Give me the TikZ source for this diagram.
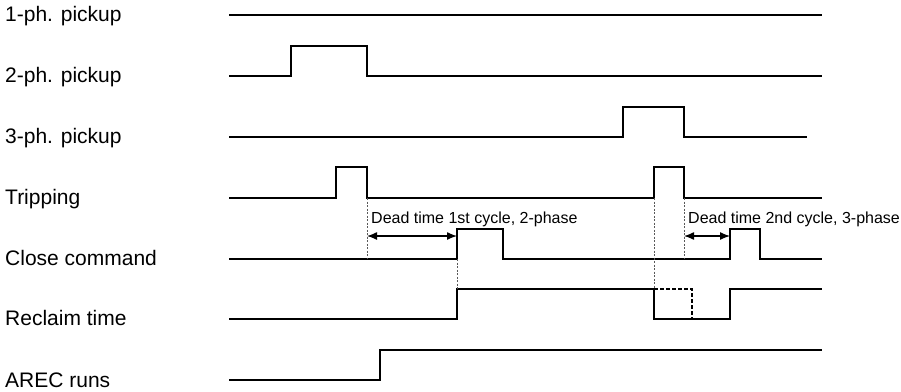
\documentclass[tikz,border=0pt]{standalone}
\usepackage{fontspec}
\setmainfont{Liberation Sans}
\usetikzlibrary{arrows.meta}
\tikzset{
  signal/.style={line width=1.8pt, line join=miter},
  siglabel/.style={anchor=base west, inner sep=0pt, font=\fontsize{21}{25}\selectfont},
  timelabel/.style={anchor=base west, inner sep=0pt, font=\fontsize{16}{19}\selectfont},
  guide/.style={line width=0.6pt, gray!70!black, dash pattern=on 2pt off 1.5pt},
  interval/.style={{Latex[length=10pt,width=8pt]}-{Latex[length=10pt,width=8pt]}, line width=1.3pt},
  holdoff/.style={line width=1.8pt, dash pattern=on 3.5pt off 2.5pt},
}

\begin{document}
\begin{tikzpicture}[x=1pt, y=-1pt]
  \useasboundingbox (0,0) rectangle (901,391);

  % signal names
  \node[siglabel] (ph1)   at (5,21)  {1-ph. pickup};
  \node[siglabel] (ph2)   at (5,82)  {2-ph. pickup};
  \node[siglabel] (ph3)   at (5,143) {3-ph. pickup};
  \node[siglabel] (trip)  at (5,204) {Tripping};
  \node[siglabel] (close) at (5,265) {Close command};
  \node[siglabel] (recl)  at (5,325) {Reclaim time};
  \node[siglabel] (arec)  at (5,387) {AREC runs};

  % waveforms
  \draw[signal] (229,15) -- (822,15);
  \draw[signal] (229,76) -- (291,76) -- (291,46) -- (367,46) -- (367,76) -- (822,76);
  \draw[signal] (229,137) -- (623,137) -- (623,107) -- (684,107) -- (684,137) -- (807,137);
  \draw[signal] (229,198) -- (336,198) -- (336,167) -- (367,167) -- (367,198)
                -- (654,198) -- (654,167) -- (684,167) -- (684,198) -- (822,198);
  \draw[signal] (229,259) -- (457,259) -- (457,229) -- (503,229) -- (503,259)
                -- (730,259) -- (730,229) -- (760,229) -- (760,259) -- (822,259);
  \draw[signal] (229,319) -- (457,319) -- (457,289) -- (654,289) -- (654,319)
                -- (730,319) -- (730,289) -- (822,289);
  \draw[holdoff] (654,289) -- (692,289) -- (692,319);
  \draw[signal] (229,380) -- (380,380) -- (380,350) -- (822,350);

  % guide lines
  \draw[guide] (367,198) -- (367,259);
  \draw[guide] (457,259) -- (457,289);
  \draw[guide] (654,198) -- (654,289);
  \draw[guide] (684,198) -- (684,259);

  % dead times
  \coordinate (dt1a) at (367,236);
  \coordinate (dt1b) at (457,236);
  \coordinate (dt2a) at (684,236);
  \coordinate (dt2b) at (730,236);
  \draw[interval] (dt1a) -- (dt1b);
  \draw[interval] (dt2a) -- (dt2b);
  \node[timelabel] (dt1) at (371,223) {Dead time 1st cycle, 2-phase};
  \node[timelabel] (dt2) at (688,223) {Dead time 2nd cycle, 3-phase};
\end{tikzpicture}
\end{document}
